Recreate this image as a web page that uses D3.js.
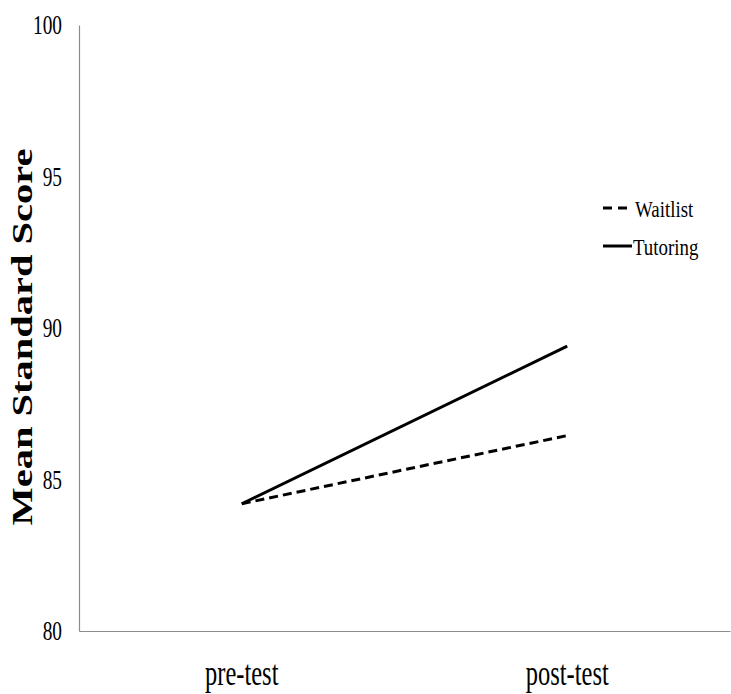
<!DOCTYPE html>
<html><head><meta charset="utf-8">
<script src="https://cdn.jsdelivr.net/npm/d3@7"></script>
<style>body{margin:0;background:#fff}svg{display:block}text{font-family:"Liberation Serif","Times New Roman",serif;fill:#000}</style>
</head><body>
<svg id="chart" width="731" height="694"></svg>
<script>
const categories = ["pre-test", "post-test"];
const seriesNames = ["Waitlist", "Tutoring"];
const waitlist = [84.2, 86.45];
const tutoring = [84.2, 89.4];
const yTicks = [80, 85, 90, 95, 100];
const yTitle = "Mean Standard Score";

(function () {
const svg = d3.select("#chart");
const mLeft = 79, mRight = 730, mTop = 25, mBottom = 631;

const x = d3.scalePoint().domain(categories).range([mLeft, mRight]).padding(0.5);
const y = d3.scaleLinear().domain([80, 100]).range([mBottom, mTop]);

// axes lines
const yAxis = d3.axisLeft(y).tickValues(yTicks).tickSize(0).tickFormat("");
svg.append("g").attr("transform", `translate(${mLeft},0)`).call(yAxis)
  .call(g => g.select(".domain").attr("stroke", "#8c8c8c").attr("stroke-width", 1.2));
const xAxis = d3.axisBottom(x).tickSize(0).tickFormat("");
svg.append("g").attr("transform", `translate(0,${mBottom})`).call(xAxis)
  .call(g => g.select(".domain").attr("stroke", "#8c8c8c").attr("stroke-width", 1.2));

// y tick labels
svg.append("g").selectAll("text").data(yTicks).join("text")
  .attr("transform", d => `translate(62,${y(d)}) scale(0.73,1)`)
  .attr("text-anchor", "end").attr("dominant-baseline", "central")
  .style("font-size", "26.5px").text(d => d);

// category labels
svg.append("g").selectAll("text").data(categories).join("text")
  .attr("transform", d => `translate(${x(d)},685) scale(0.68,1)`)
  .attr("text-anchor", "middle").style("font-size", "36px").text(d => d);

// y title
svg.append("text")
  .attr("transform", `translate(32,337) rotate(-90)`)
  .attr("text-anchor", "middle")
  .attr("textLength", 377).attr("lengthAdjust", "spacingAndGlyphs")
  .style("font-size", "30px").style("font-weight", "bold").text(yTitle);

// lines
const line = d3.line().x((d, i) => x(categories[i])).y(d => y(d));
svg.append("path").datum(waitlist).attr("d", line)
  .attr("fill", "none").attr("stroke", "#000").attr("stroke-width", 3)
  .attr("stroke-dasharray", "9,5");
svg.append("path").datum(tutoring).attr("d", line)
  .attr("fill", "none").attr("stroke", "#000").attr("stroke-width", 3);

// legend
const legend = [
  {name: seriesNames[0], dash: "9,6", y: 208, x2: 627, tx: 635},
  {name: seriesNames[1], dash: null, y: 246, x2: 632, tx: 633}
];
const lg = svg.append("g");
legend.forEach(l => {
  lg.append("line").attr("x1", 603).attr("x2", l.x2).attr("y1", l.y).attr("y2", l.y)
    .attr("stroke", "#000").attr("stroke-width", 3)
    .attr("stroke-dasharray", l.dash);
  lg.append("text").attr("transform", `translate(${l.tx},${l.y + 9}) scale(0.84,1)`)
    .style("font-size", "22.5px").text(l.name);
});
})();
</script>
</body></html>
